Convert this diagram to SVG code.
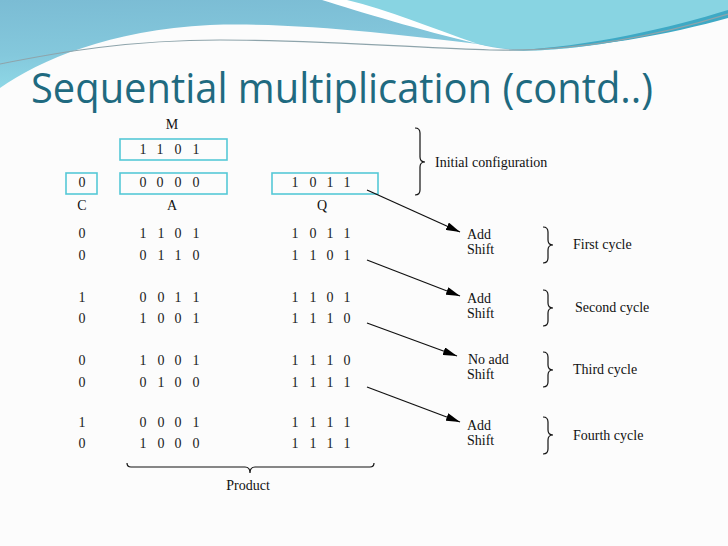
<svg xmlns="http://www.w3.org/2000/svg" width="728" height="546" viewBox="0 0 728 546">
<defs>
<linearGradient id="lg" x1="0" y1="0" x2="0.2" y2="1">
<stop offset="0" stop-color="#7bbcd4"/>
<stop offset="0.6" stop-color="#84c8dc"/>
<stop offset="1" stop-color="#8fd9e7"/>
</linearGradient>
<marker id="ah" markerUnits="userSpaceOnUse" markerWidth="14" markerHeight="8" refX="14" refY="4" orient="auto">
<path d="M0,0 L14,4 L0,8 Z" fill="#000"/>
</marker>
<style>
.t{font-family:"Liberation Serif","Times New Roman",serif;font-size:14px;fill:#111}
.d{font-family:"Liberation Serif","Times New Roman",serif;font-size:14px;fill:#1a1a1a;text-anchor:middle}
.c{text-anchor:middle}
.box{fill:none;stroke:#55c8d6;stroke-width:1.6}
.br{fill:none;stroke:#111;stroke-width:1.2}
.ar{fill:none;stroke:#111;stroke-width:1.3;marker-end:url(#ah)}
</style>
</defs>
<rect width="728" height="546" fill="#fcfcfc"/>
<g id="header">
<path d="M0,0 H728 V12 C690,25 620,46 545,50 C515,52 495,48 478,44 C400,35 300,22 210,25 C110,30 40,60 0,88 Z" fill="url(#lg)"/>
<path d="M330,0 H728 V12 C690,25 620,46 545,50 C520,51 500,48 478,44 C430,28 385,12 345,0 Z" fill="#88d4e2"/>
<path d="M322,0 C360,12 420,30 478,44 C432,28 388,10 347,0 Z" fill="#ffffff"/>
<path d="M505,51 C590,47 670,28 728,10 L728,18 C670,34 590,50 505,51 Z" fill="#3ea9c5"/>
<path d="M0,64 C60,52 130,40 220,40 C320,40 420,48 490,50 C580,52 660,35 728,14" fill="none" stroke="#8ea4ab" stroke-width="1.2"/>
<text x="31" y="103" font-family="Open Sans, Noto Sans, sans-serif" font-size="42" fill="#1f6a80" textLength="622" lengthAdjust="spacingAndGlyphs">Sequential multiplication (contd..)</text>
</g>
<g id="registers">
<text class="t c" x="172" y="129">M</text>
<rect class="box" x="120" y="139" width="107" height="21"/>
<text class="d" x="143 160 178 196" y="154">1101</text>
<rect class="box" x="66" y="173" width="31" height="21"/>
<text class="d" x="82" y="187">0</text>
<rect class="box" x="120" y="173" width="107" height="21"/>
<text class="d" x="143 160 178 196" y="187">0000</text>
<rect class="box" x="272" y="173" width="106" height="21"/>
<text class="d" x="295 313 330 347" y="187">1011</text>
<text class="t c" x="82" y="210">C</text>
<text class="t c" x="172" y="210">A</text>
<text class="t c" x="322" y="210">Q</text>
</g>
<g id="rows">
<text class="d" x="82" y="238">0</text><text class="d" x="143 161 178 196" y="238">1101</text><text class="d" x="295 313 330 347" y="238">1011</text>
<text class="d" x="82" y="260">0</text><text class="d" x="143 161 178 196" y="260">0110</text><text class="d" x="295 313 330 347" y="260">1101</text>
<text class="d" x="82" y="302">1</text><text class="d" x="143 161 178 196" y="302">0011</text><text class="d" x="295 313 330 347" y="302">1101</text>
<text class="d" x="82" y="323">0</text><text class="d" x="143 161 178 196" y="323">1001</text><text class="d" x="295 313 330 347" y="323">1110</text>
<text class="d" x="82" y="365">0</text><text class="d" x="143 161 178 196" y="365">1001</text><text class="d" x="295 313 330 347" y="365">1110</text>
<text class="d" x="82" y="387">0</text><text class="d" x="143 161 178 196" y="387">0100</text><text class="d" x="295 313 330 347" y="387">1111</text>
<text class="d" x="82" y="427">1</text><text class="d" x="143 161 178 196" y="427">0001</text><text class="d" x="295 313 330 347" y="427">1111</text>
<text class="d" x="82" y="448">0</text><text class="d" x="143 161 178 196" y="448">1000</text><text class="d" x="295 313 330 347" y="448">1111</text>
</g>
<g id="connectors">
<line class="ar" x1="367" y1="190" x2="460" y2="232"/>
<line class="ar" x1="367" y1="260" x2="460" y2="296"/>
<line class="ar" x1="367" y1="323" x2="457" y2="356"/>
<line class="ar" x1="367" y1="387" x2="460" y2="422"/>
</g>
<g id="steps">
<text class="t" x="467" y="239">Add</text><text class="t" x="467" y="254">Shift</text>
<text class="t" x="467" y="303">Add</text><text class="t" x="467" y="318">Shift</text>
<text class="t" x="468" y="364">No add</text><text class="t" x="467" y="379">Shift</text>
<text class="t" x="467" y="430">Add</text><text class="t" x="467" y="445">Shift</text>
</g>
<g id="braces">
<path class="br" d="M415,128 Q420,128 420,133 L420,157 Q420,162 425,162 Q420,162 420,167 L420,190 Q420,195 415,195"/>
<text class="t" x="435" y="167">Initial configuration</text>
<path class="br" d="M543,227 Q548,227 548,232 L548,240 Q548,245 553,245 Q548,245 548,250 L548,258 Q548,263 543,263"/>
<text class="t" x="573" y="249">First cycle</text>
<path class="br" d="M543,290 Q548,290 548,295 L548,303 Q548,308 553,308 Q548,308 548,313 L548,321 Q548,326 543,326"/>
<text class="t" x="575" y="312">Second cycle</text>
<path class="br" d="M543,352 Q548,352 548,357 L548,365 Q548,370 553,370 Q548,370 548,375 L548,382 Q548,387 543,387"/>
<text class="t" x="573" y="374">Third cycle</text>
<path class="br" d="M543,417 Q548,417 548,422 L548,430 Q548,435 553,435 Q548,435 548,440 L548,449 Q548,454 543,454"/>
<text class="t" x="573" y="440">Fourth cycle</text>
<path class="br" d="M127,463 Q127,467 131,467 L245,467 Q250,467 250,473 Q250,467 255,467 L370,467 Q374,467 374,463"/>
<text class="t c" x="248" y="490">Product</text>
</g>
</svg>
